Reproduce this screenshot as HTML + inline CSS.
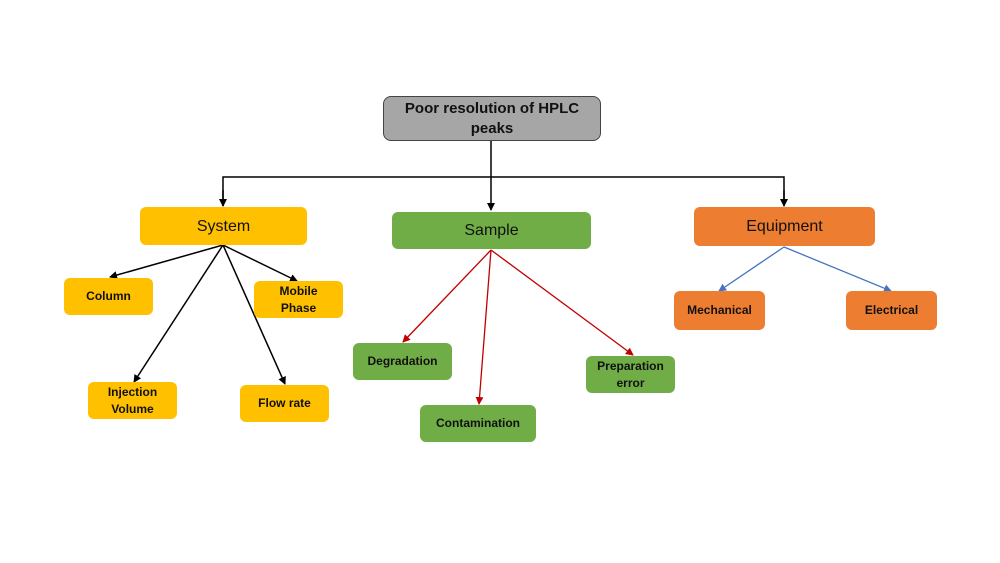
<!DOCTYPE html>
<html><head><meta charset="utf-8"><style>
body{margin:0;background:#fff;}
.c{position:relative;width:1000px;height:563px;overflow:hidden;font-family:"Liberation Sans",Calibri,sans-serif;}
.b{position:absolute;display:flex;align-items:center;justify-content:center;text-align:center;border-radius:6px;box-sizing:border-box;font-weight:bold;font-size:12px;line-height:17px;color:#111;}
.y{background:#ffc000;}.g{background:#70ad47;}.o{background:#ed7d31;}
.big{font-weight:normal;font-size:16px;}
svg{position:absolute;left:0;top:0;}
</style></head><body><div class="c">
<svg width="1000" height="563">
<defs>
<marker id="k" markerWidth="8" markerHeight="8" refX="7" refY="4" orient="auto" markerUnits="userSpaceOnUse"><path d="M0,0L8,4L0,8z" fill="#000"/></marker>
<marker id="r" markerWidth="8" markerHeight="8" refX="7" refY="4" orient="auto" markerUnits="userSpaceOnUse"><path d="M0,0L8,4L0,8z" fill="#c00000"/></marker>
<marker id="u" markerWidth="8" markerHeight="8" refX="7" refY="4" orient="auto" markerUnits="userSpaceOnUse"><path d="M0,0L8,4L0,8z" fill="#4472c4"/></marker>
</defs>
<g stroke="#000" stroke-width="1.5" fill="none">
<line x1="491" y1="141" x2="491" y2="210" marker-end="url(#k)"/>
<polyline points="223,206 223,177 784,177 784,206" />
<line x1="223" y1="190" x2="223" y2="206" marker-end="url(#k)"/>
<line x1="784" y1="190" x2="784" y2="206" marker-end="url(#k)"/>
<line x1="223" y1="245" x2="110" y2="277" marker-end="url(#k)"/>
<line x1="223" y1="245" x2="297" y2="281" marker-end="url(#k)"/>
<line x1="223" y1="245" x2="134" y2="382" marker-end="url(#k)"/>
<line x1="223" y1="245" x2="285" y2="384" marker-end="url(#k)"/>
</g>
<g stroke="#c00000" stroke-width="1.3">
<line x1="491" y1="250" x2="403" y2="342" marker-end="url(#r)"/>
<line x1="491" y1="250" x2="479" y2="404" marker-end="url(#r)"/>
<line x1="491" y1="250" x2="633" y2="355" marker-end="url(#r)"/>
</g>
<g stroke="#4472c4" stroke-width="1.3">
<line x1="784" y1="247" x2="719" y2="291" marker-end="url(#u)"/>
<line x1="784" y1="247" x2="891" y2="291" marker-end="url(#u)"/>
</g>
</svg>
<div class="b" style="left:383px;top:96px;width:218px;height:45px;background:#a6a6a6;border:1px solid #444;border-radius:8px;font-size:15px;line-height:20px;">Poor resolution of HPLC<br>peaks</div>
<div class="b y big" style="left:140px;top:207px;width:167px;height:38px;">System</div>
<div class="b g big" style="left:392px;top:212px;width:199px;height:37px;">Sample</div>
<div class="b o big" style="left:694px;top:207px;width:181px;height:39px;">Equipment</div>
<div class="b y" style="left:64px;top:278px;width:89px;height:37px;">Column</div>
<div class="b y" style="left:254px;top:281px;width:89px;height:37px;">Mobile<br>Phase</div>
<div class="b y" style="left:88px;top:382px;width:89px;height:37px;">Injection<br>Volume</div>
<div class="b y" style="left:240px;top:385px;width:89px;height:37px;">Flow rate</div>
<div class="b g" style="left:353px;top:343px;width:99px;height:37px;">Degradation</div>
<div class="b g" style="left:420px;top:405px;width:116px;height:37px;">Contamination</div>
<div class="b g" style="left:586px;top:356px;width:89px;height:37px;">Preparation<br>error</div>
<div class="b o" style="left:674px;top:291px;width:91px;height:39px;">Mechanical</div>
<div class="b o" style="left:846px;top:291px;width:91px;height:39px;">Electrical</div>
</div></body></html>
